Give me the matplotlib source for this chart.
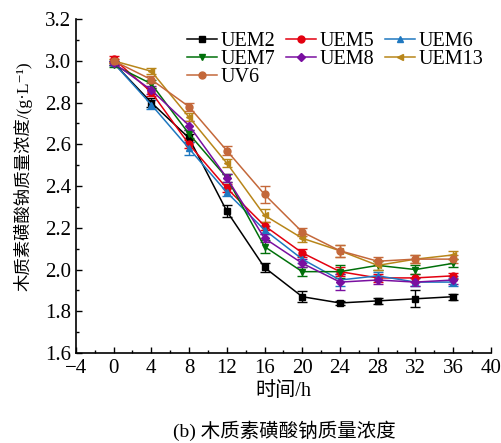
import matplotlib.pyplot as plt
from matplotlib.ticker import MultipleLocator
import numpy as np

plt.rcParams['font.family'] = ['Liberation Serif', 'Noto Sans CJK SC', 'DejaVu Serif']

# sampling time (h)
hours = [0, 4, 8, 12, 16, 20, 24, 28, 32, 36]

# lignosulfonate concentration (g/L) for each strain
uem2 = [2.99, 2.80, 2.63, 2.28, 2.01, 1.87, 1.84, 1.85, 1.86, 1.87]
uem5 = [3.01, 2.85, 2.60, 2.39, 2.21, 2.08, 1.99, 1.96, 1.96, 1.97]
uem6 = [2.99, 2.79, 2.58, 2.37, 2.19, 2.05, 1.95, 1.97, 1.94, 1.94]
uem7 = [2.98, 2.89, 2.65, 2.44, 2.11, 1.99, 1.99, 2.02, 2.00, 2.03]
uem8 = [2.99, 2.86, 2.69, 2.44, 2.15, 2.03, 1.94, 1.95, 1.94, 1.95]
uem13 = [3.00, 2.95, 2.73, 2.51, 2.26, 2.15, 2.09, 2.02, 2.05, 2.07]
uv6 = [3.00, 2.91, 2.78, 2.57, 2.36, 2.18, 2.09, 2.04, 2.05, 2.05]

# standard deviations
err2 = [0.01, 0.02, 0.02, 0.03, 0.02, 0.025, 0.01, 0.015, 0.04, 0.015]
err5 = [0.015, 0.02, 0.02, 0.02, 0.02, 0.02, 0.02, 0.02, 0.02, 0.015]
err6 = [0.01, 0.02, 0.03, 0.02, 0.02, 0.02, 0.03, 0.02, 0.02, 0.02]
err7 = [0.01, 0.02, 0.02, 0.02, 0.03, 0.02, 0.03, 0.02, 0.02, 0.02]
err8 = [0.01, 0.02, 0.02, 0.02, 0.02, 0.02, 0.04, 0.02, 0.02, 0.02]
err13 = [0.01, 0.015, 0.02, 0.02, 0.03, 0.02, 0.03, 0.02, 0.02, 0.02]
err6v = [0.01, 0.015, 0.02, 0.02, 0.04, 0.02, 0.03, 0.02, 0.02, 0.02]

series = [
    ('UEM2', uem2, err2, '#000000', 's'),
    ('UEM5', uem5, err5, '#e3000f', 'o'),
    ('UEM6', uem6, err6, '#1f78c0', '^'),
    ('UEM7', uem7, err7, '#00700a', 'v'),
    ('UEM8', uem8, err8, '#7a0fa0', 'D'),
    ('UEM13', uem13, err13, '#b8861a', '<'),
    ('UV6', uv6, err6v, '#c4683a', 'o'),
]

fig = plt.figure(figsize=(5.02, 4.43), dpi=100)
ax = fig.add_axes([0.151, 0.203, 0.827, 0.754])

lines = {}
for name, vals, err, col, mk in series:
    ms = 4 if mk == 'D' else 5
    cont = ax.errorbar(hours, vals, yerr=err, color=col, marker=mk, markersize=ms,
                       linewidth=1.1, elinewidth=1.0, capsize=3.5, capthick=1.0,
                       ecolor=col)
    lines[name] = cont.lines[0]

ax.set_xlim(-4, 40)
ax.set_ylim(1.6, 3.2)
ax.xaxis.set_major_locator(MultipleLocator(4))
ax.xaxis.set_minor_locator(MultipleLocator(2))
ax.yaxis.set_major_locator(MultipleLocator(0.2))
ax.yaxis.set_minor_locator(MultipleLocator(0.1))
ax.yaxis.set_major_formatter(plt.FuncFormatter(lambda v, p: '%.1f' % v))
ax.xaxis.set_major_formatter(plt.FuncFormatter(lambda v, p: ('\u2212%d' % -v) if v < 0 else '%d' % v))
ax.tick_params(which='both', direction='in', labelsize=15)
ax.tick_params(axis='x', pad=4)
ax.tick_params(which='major', length=4, width=1)
ax.tick_params(which='minor', length=2, width=1)
ax.spines['top'].set_visible(False)
ax.spines['right'].set_visible(False)
for s in ('left', 'bottom'):
    ax.spines[s].set_linewidth(1.2)

ax.set_xlabel('时间/h', fontsize=14.5, labelpad=3)
ax.set_ylabel('木质素磺酸钠质量浓度/(g·L\u207b\u00b9)', fontsize=12.5)
ax.yaxis.set_label_coords(-0.105, 0.53)

# legend filled row by row: UEM2 UEM5 UEM6 / UEM7 UEM8 UEM13 / UV6
order = ['UEM2', 'UEM7', 'UV6', 'UEM5', 'UEM8', 'UEM6', 'UEM13']
ax.legend([lines[n] for n in order], order, ncol=3, loc='upper right',
          bbox_to_anchor=(1.0, 0.985), frameon=False, fontsize=14.5,
          handlelength=1.5, handletextpad=0.15, columnspacing=0.55,
          labelspacing=-0.05, borderaxespad=0.0)

fig.text(0.567, 0.027, '(b) 木质素磺酸钠质量浓度', ha='center', va='center', fontsize=14)

fig.savefig('out.png', dpi=100)
